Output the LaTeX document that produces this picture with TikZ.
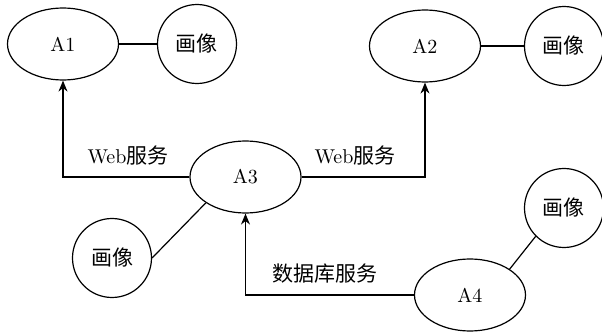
\documentclass[tikz,border=0pt]{standalone}
\usepackage{fontspec}
\newfontfamily\cjk[Scale=1.05]{Noto Sans CJK SC}
\usetikzlibrary{shapes.geometric,arrows.meta}
\tikzset{
  ell/.style={draw, ellipse, line width=0.6pt, minimum width=55.5pt, minimum height=36pt, inner sep=0pt},
  circ/.style={draw, circle, line width=0.6pt, minimum size=39.5pt, inner sep=0pt},
  conn/.style={line width=0.6pt},
  arr/.style={line width=0.6pt, -{Stealth[length=5.5pt,width=4.5pt]}},
  lbl/.style={inner sep=0pt}
}
\begin{document}
\begin{tikzpicture}[x=0.5pt,y=-0.5pt]
\useasboundingbox (0,0) rectangle (602,332);
\node[ell] (A1) at (63,44) {A1};
\node[circ] (C1) at (197,44) {\cjk 画像};
\node[ell] (A2) at (425,46) {A2};
\node[circ] (C2) at (564,46) {\cjk 画像};
\node[ell] (A3) at (245.5,177) {A3};
\node[circ] (C3) at (112,258) {\cjk 画像};
\node[ell] (A4) at (470,295) {A4};
\node[circ] (C4) at (564,208) {\cjk 画像};
\draw[conn] (A1.east) -- (C1.west);
\draw[conn] (A2.east) -- (C2.west);
\draw[conn] (A3.south west) -- (C3.east);
\draw[conn] (A4.north east) -- (C4.south west);
\draw[arr] (A3.west) -| (A1.south);
\draw[arr] (A3.east) -| (A2.south);
\draw[arr] (A4.west) -| (A3.south);
\node[lbl] (L1) at (128,156) {Web{\cjk 服务}};
\node[lbl] (L2) at (355,156) {Web{\cjk 服务}};
\node[lbl] (L3) at (325,274) {\cjk 数据库服务};
\end{tikzpicture}
\end{document}
